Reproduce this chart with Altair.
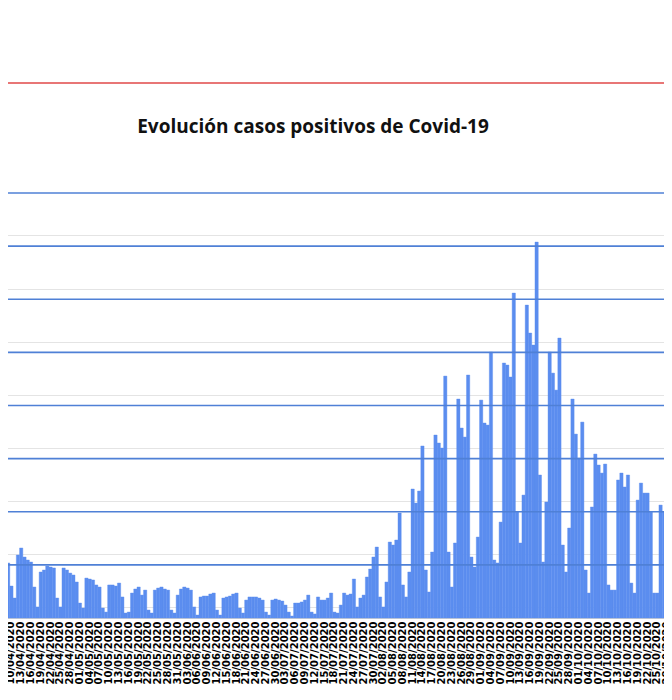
import altair as alt
import pandas as pd

# Casos positivos diarios (estimados a partir de la imagen), desde el 07/04/2020
casos = [
    800, 536, 518, 301, 188, 593, 659, 574, 546, 527,
    292, 104, 433, 452, 489, 480, 471, 188, 104, 471,
    452, 423, 405, 339, 141, 94, 376, 367, 358, 311,
    292, 94, 56, 311, 311, 301, 329, 198, 47, 56,
    235, 273, 292, 216, 263, 75, 47, 263, 282, 292,
    273, 263, 75, 47, 216, 273, 292, 282, 263, 104,
    28, 198, 207, 207, 226, 235, 75, 28, 188, 198,
    207, 226, 235, 94, 47, 169, 198, 198, 198, 188,
    169, 56, 28, 169, 179, 169, 160, 122, 56, 19,
    141, 141, 151, 169, 216, 56, 38, 198, 169, 169,
    188, 235, 56, 47, 122, 235, 216, 226, 367, 104,
    188, 216, 386, 461, 574, 668, 198, 104, 339, 715,
    687, 734, 988, 311, 198, 433, 1214, 1082, 1195, 1619,
    452, 245, 621, 1722, 1647, 1600, 2277, 621, 292, 706,
    2061, 1788, 1703, 2287, 574, 480, 762, 2051, 1835, 1816,
    2503, 546, 518, 903, 2400, 2381, 2268, 3058, 997, 706,
    1157, 2945, 2682, 2569, 3538, 1346, 527, 1092, 2503, 2305,
    2145, 2635, 687, 433, 847, 2061, 1731, 1506, 1844, 452,
    235, 1045, 1543, 1440, 1364, 1449, 311, 263, 263, 1299,
    1364, 1233, 1346, 329, 235, 1110, 1270, 1176, 1176, 997,
    235, 235, 1063, 997, 1016, 997,
]

fechas = pd.date_range("2020-04-07", periods=len(casos), freq="D").strftime("%d/%m/%Y").tolist()
etiquetas = fechas[::3]

titulo = "Evolución casos positivos de Covid-19"
lineas_principales = [500, 1000, 1500, 2000, 2500, 3000, 3500, 4000]
lineas_menores = [v for v in range(100, 4000, 100) if v % 500 != 0]

df = pd.DataFrame({"fecha": fechas, "casos": casos})

W, H = 672, 425
BAR = "#5B8DEF"

bars = alt.Chart(df).mark_bar(color=BAR, stroke=BAR, strokeWidth=0.4).encode(
    x=alt.X(
        "fecha:O",
        sort=None,
        scale=alt.Scale(paddingInner=0, paddingOuter=0),
        axis=alt.Axis(
            values=etiquetas,
            labelAngle=-90,
            labelFont="DejaVu Sans",
            labelFontSize=10,
            labelFontWeight="bold",
            labelColor="#000000",
            labelOverlap=False,
            labelBound=False,
            labelFlush=False,
            labelPadding=3,
            ticks=False,
            domain=True,
            domainColor="#d0d0d0",
            grid=False,
            title=None,
        ),
    ),
    y=alt.Y(
        "casos:Q",
        scale=alt.Scale(domain=[0, 4000], nice=False),
        axis=alt.Axis(
            values=lineas_menores,
            labels=False,
            ticks=False,
            domain=False,
            title=None,
            grid=True,
            gridColor="#e4e4e4",
            gridWidth=1,
        ),
    ),
)

major = alt.Chart(pd.DataFrame({"nivel": lineas_principales})).mark_rule(
    color="#4F80D6", strokeWidth=1.6
).encode(y=alt.Y("nivel:Q"))

red = alt.Chart(pd.DataFrame({"a": [0]})).mark_rule(
    color="#E04848", strokeWidth=1.5
).encode(x=alt.value(0), x2=alt.value(W), y=alt.value(-110))

title_mark = alt.Chart(pd.DataFrame({"t": [titulo]})).mark_text(
    font="Open Sans", fontSize=19, fontWeight="bold", color="#111111",
    align="center", baseline="middle"
).encode(text="t:N", x=alt.value(313), y=alt.value(-66))

chart = alt.layer(bars, major, red, title_mark).properties(
    width=W,
    height=H,
    autosize=alt.AutoSizeParams(type="none"),
    padding={"left": -8, "top": 185, "right": -8, "bottom": 68},
    background="white",
).configure_view(stroke=None)

chart.save("out.html", embed_options={"renderer": "svg", "actions": False})
